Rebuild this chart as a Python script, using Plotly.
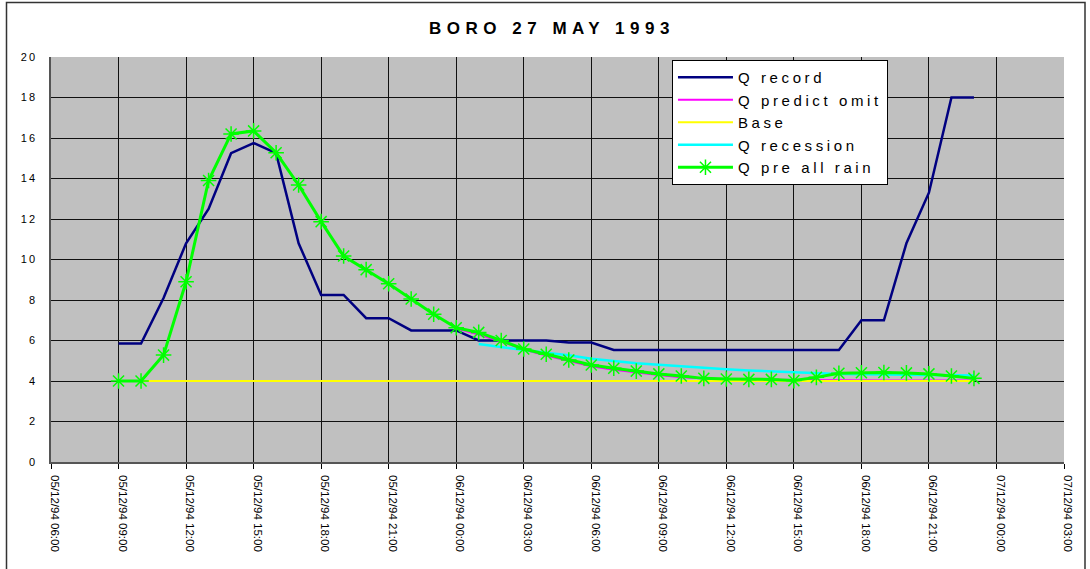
import pandas as pd
import plotly.graph_objects as go

# hourly timestamps 05/12/94 09:00 .. 06/12/94 23:00
times = pd.date_range("1994-12-05 09:00", periods=39, freq="h")

q_record = [5.85, 5.85, 8.1, 10.8, 12.5, 15.25, 15.75, 15.25, 10.8, 8.25,
            8.25, 7.1, 7.1, 6.5, 6.5, 6.5, 6.0, 6.0, 6.0, 6.0,
            5.9, 5.9, 5.53, 5.53, 5.53, 5.53, 5.53, 5.53, 5.53, 5.53,
            5.53, 5.53, 5.53, 7.0, 7.0, 10.8, 13.3, 18.0, 18.0]

q_pre_all_rain = [4.0, 4.0, 5.28, 8.9, 13.9, 16.2, 16.35, 15.27, 13.68, 11.87,
                  10.17, 9.5, 8.8, 8.05, 7.3, 6.63, 6.4, 6.0, 5.58, 5.32,
                  5.04, 4.79, 4.63, 4.49, 4.35, 4.25, 4.13, 4.1, 4.08, 4.08,
                  4.02, 4.18, 4.38, 4.41, 4.42, 4.4, 4.35, 4.25, 4.13]

base_idx_start = 1
base = [4.0] * 38

recession_idx_start = 16
q_recession = [5.83, 5.67, 5.53, 5.40, 5.27, 5.10, 4.98, 4.88, 4.80, 4.72,
               4.65, 4.58, 4.52, 4.47, 4.42, 4.38, 4.35, 4.33, 4.31, 4.30,
               4.29, 4.28, 4.27]

predict_idx_start = 15
q_predict_omit = [6.6, 6.3, 5.95, 5.55, 5.26, 4.98, 4.73, 4.56, 4.42, 4.29,
                  4.19, 4.12, 4.08, 4.06, 4.05, 4.05, 4.04, 4.04, 4.04, 4.03,
                  4.03, 4.03, 4.03, 4.03]

y_ticks = [0, 2, 4, 6, 8, 10, 12, 14, 16, 18, 20]
x_range = ["1994-12-05 06:00", "1994-12-07 03:00"]
title_text = "BORO 27 MAY 1993"
series_names = ["Q record", "Q predict omit", "Base", "Q recession", "Q pre all rain"]


def spaced(txt, px):
    return '<span style="letter-spacing:%spx">%s</span>' % (px, txt)


LS = 3.6
fig = go.Figure()
fig.add_trace(go.Scatter(x=times, y=q_record, mode="lines", name=spaced(series_names[0], LS),
                         line=dict(color="#000080", width=2.5)))
fig.add_trace(go.Scatter(x=times[predict_idx_start:predict_idx_start + len(q_predict_omit)],
                         y=q_predict_omit, mode="lines", name=spaced(series_names[1], LS),
                         line=dict(color="#FF00FF", width=2)))
fig.add_trace(go.Scatter(x=times[base_idx_start:base_idx_start + len(base)], y=base,
                         mode="lines", name=spaced(series_names[2], LS),
                         line=dict(color="#FFFF00", width=2)))
fig.add_trace(go.Scatter(x=times[recession_idx_start:recession_idx_start + len(q_recession)],
                         y=q_recession, mode="lines", name=spaced(series_names[3], LS),
                         line=dict(color="#00FFFF", width=2.5)))
fig.add_trace(go.Scatter(x=times, y=q_pre_all_rain, mode="lines+markers",
                         name=spaced(series_names[4], LS),
                         line=dict(color="#00FF00", width=3),
                         marker=dict(symbol="asterisk-open", size=13, color="#00FF00",
                                     line=dict(color="#00FF00", width=1.5))))

W, H = 1090, 569
fig.update_layout(
    width=W, height=H,
    margin=dict(l=51, r=26, t=57, b=107, autoexpand=False),
    paper_bgcolor="white",
    plot_bgcolor="#C0C0C0",
    font=dict(family="Arial, Liberation Sans", color="black", size=11),
    title=dict(text="<b>" + spaced(title_text, 5.5) + "</b>", x=552 / W, xanchor="center",
               y=1 - 28 / H, yanchor="middle",
               font=dict(family="Arial, Liberation Sans", size=17, color="black")),
    showlegend=True,
    legend=dict(x=0.613, y=(462 - 60) / 405, xanchor="left", yanchor="top",
                bgcolor="white", bordercolor="black", borderwidth=1,
                font=dict(family="Arial, Liberation Sans", size=15, color="black"),
                itemwidth=55, tracegroupgap=0),
)

fig.update_xaxes(
    type="date", range=x_range,
    tick0="1994-12-05 06:00", dtick=3 * 3600 * 1000,
    tickformat="%d/%m/%y %H:%M", tickangle=90,
    ticks="outside", ticklen=5, tickcolor="black",
    ticklabelshift=4, ticklabelstandoff=4,
    showgrid=True, gridcolor="#111111", gridwidth=1,
    showline=True, linecolor="#555555", linewidth=1.5,
    tickfont=dict(size=11.5, family="Arial, Liberation Sans"),
    zeroline=False,
)
fig.update_yaxes(
    range=[0, 20], tickvals=y_ticks, ticktext=[spaced(str(v), 2) for v in y_ticks],
    ticks="outside", ticklen=10, tickcolor="rgba(0,0,0,0)",
    showgrid=True, gridcolor="#111111", gridwidth=1,
    showline=True, linecolor="#555555", linewidth=1.5,
    tickfont=dict(size=11, family="Arial, Liberation Sans"),
    zeroline=False,
)

# outer chart frame
fig.add_shape(type="rect", xref="paper", yref="paper",
              x0=(6.5 - 51) / 1013, x1=(1085 - 51) / 1013,
              y0=-0.4, y1=(462 - 2.5) / 405,
              line=dict(color="#333333", width=1.5), layer="below")

fig.write_html("out.html", config={"displayModeBar": False},
               post_script="document.body.style.margin='0';")
